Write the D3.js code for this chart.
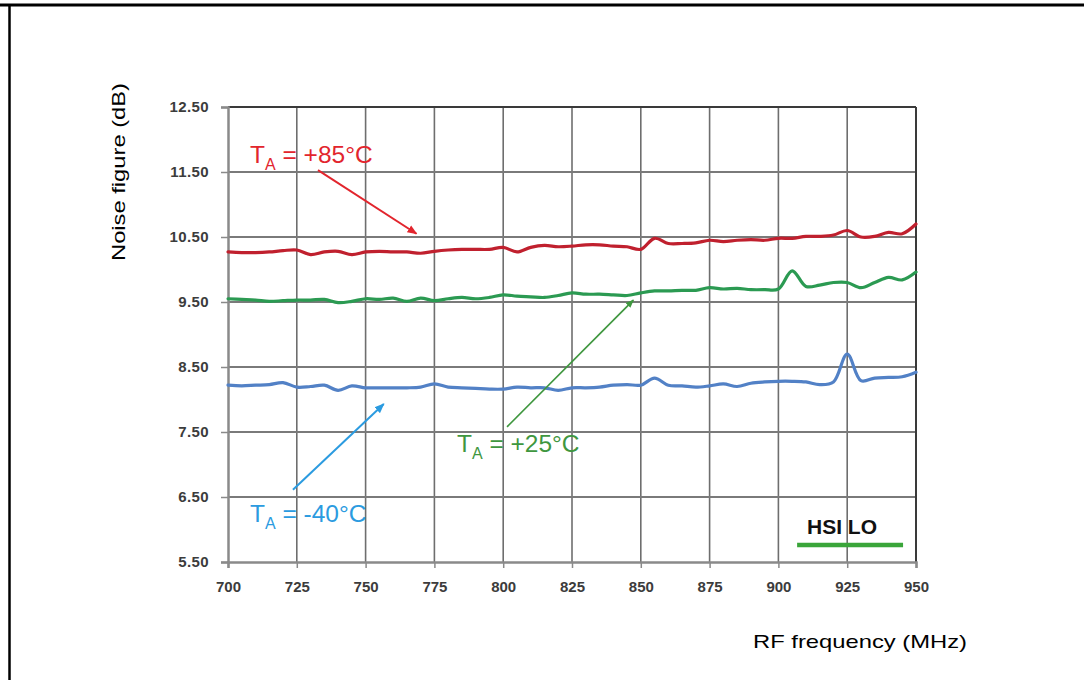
<!DOCTYPE html>
<html>
<head>
<meta charset="utf-8">
<script src="https://cdn.jsdelivr.net/npm/d3@7"></script>
<style>
  html, body { margin: 0; padding: 0; background: #fff; }
  svg { display: block; }
</style>
</head>
<body>
<svg id="chart" width="1084" height="680"></svg>
<script>
// ---------------- DATA ----------------
const freqMHz = [700,705,710,715,720,725,730,735,740,745,750,755,760,765,770,775,780,785,790,795,
                 800,805,810,815,820,825,830,835,840,845,850,855,860,865,870,875,880,885,890,895,
                 900,905,910,915,920,925,930,935,940,945,950];

const nf85 = [10.27,10.26,10.26,10.27,10.29,10.30,10.23,10.27,10.28,10.23,10.27,10.28,10.27,10.27,10.25,10.28,10.30,10.31,10.31,10.31,
              10.34,10.27,10.34,10.37,10.35,10.36,10.38,10.38,10.36,10.35,10.31,10.48,10.40,10.40,10.41,10.45,10.43,10.45,10.46,10.45,
              10.48,10.48,10.51,10.51,10.53,10.60,10.50,10.51,10.57,10.55,10.70];

const nf25 = [9.55,9.54,9.53,9.51,9.52,9.53,9.53,9.54,9.49,9.51,9.55,9.54,9.56,9.51,9.56,9.52,9.55,9.57,9.55,9.57,
              9.61,9.59,9.58,9.57,9.60,9.64,9.62,9.62,9.61,9.60,9.64,9.67,9.67,9.68,9.68,9.72,9.70,9.71,9.69,9.69,
              9.70,9.98,9.74,9.76,9.80,9.80,9.72,9.80,9.88,9.84,9.96];

const nfm40 = [8.22,8.21,8.22,8.23,8.26,8.19,8.20,8.22,8.14,8.21,8.18,8.18,8.18,8.18,8.19,8.24,8.19,8.18,8.17,8.16,
               8.16,8.19,8.18,8.18,8.14,8.18,8.18,8.19,8.22,8.23,8.22,8.33,8.22,8.21,8.19,8.21,8.24,8.20,8.25,8.27,
               8.28,8.28,8.27,8.23,8.27,8.70,8.29,8.33,8.34,8.35,8.42];

const xTicks = [700,725,750,775,800,825,850,875,900,925,950];
const yTicks = [5.5,6.5,7.5,8.5,9.5,10.5,11.5,12.5];

const seriesNames = ["+85°C", "+25°C", "-40°C"];
const xTitle = "RF frequency (MHz)";
const yTitle = "Noise figure (dB)";
const badge = "HSI LO";

// ---------------- LAYOUT / STYLE ----------------
const plot = { left: 228, right: 916, top: 107, bottom: 562 };
const colors = { r: "#c0202e", g: "#2b9a52", b: "#5281c6" };
const annColors = { r: "#e2252d", g: "#3f973f", b: "#2b9be0" };

const svg = d3.select("#chart");
const x = d3.scaleLinear().domain([700, 950]).range([plot.left, plot.right]);
const y = d3.scaleLinear().domain([5.5, 12.5]).range([plot.bottom, plot.top]);

// outer frame (page figure box)
svg.append("line").attr("x1", 0).attr("x2", 1084).attr("y1", 5).attr("y2", 5)
  .attr("stroke", "#000").attr("stroke-width", 3);
svg.append("line").attr("x1", 9.5).attr("x2", 9.5).attr("y1", 4).attr("y2", 680)
  .attr("stroke", "#000").attr("stroke-width", 2.5);

// gridlines
const grid = svg.append("g");
grid.selectAll(".vg").data(xTicks.slice(1, -1)).enter().append("line")
  .attr("x1", d => x(d)).attr("x2", d => x(d))
  .attr("y1", plot.top).attr("y2", plot.bottom)
  .attr("stroke", "#6e6e6e").attr("stroke-width", 1.6);
grid.selectAll(".hg").data(yTicks.slice(1, -1)).enter().append("line")
  .attr("x1", plot.left).attr("x2", plot.right)
  .attr("y1", d => y(d)).attr("y2", d => y(d))
  .attr("stroke", "#7a7a7a").attr("stroke-width", 1.8);

// border top/right
svg.append("line").attr("x1", plot.left).attr("x2", plot.right).attr("y1", plot.top).attr("y2", plot.top)
  .attr("stroke", "#3a3a3a").attr("stroke-width", 2);
svg.append("line").attr("x1", plot.right).attr("x2", plot.right).attr("y1", plot.top).attr("y2", plot.bottom)
  .attr("stroke", "#3a3a3a").attr("stroke-width", 2);

// axes
const xAxis = d3.axisBottom(x).tickValues(xTicks).tickSize(6).tickPadding(10).tickFormat(d3.format("d"));
const yAxis = d3.axisLeft(y).tickValues(yTicks).tickSize(7).tickPadding(12).tickFormat(d3.format(".2f"));

const gx = svg.append("g").attr("transform", `translate(0,${plot.bottom})`).call(xAxis);
const gy = svg.append("g").attr("transform", `translate(${plot.left},0)`).call(yAxis);
[gx, gy].forEach(g => {
  g.select(".domain").attr("stroke", "#8a8a8a").attr("stroke-width", 2.5);
  g.selectAll(".tick line").attr("stroke", "#8a8a8a").attr("stroke-width", 1.5);
  g.selectAll(".tick text")
    .attr("font-family", "'Liberation Sans', Arial, sans-serif")
    .attr("font-weight", "bold").attr("font-size", 15).attr("fill", "#3c3c3c");
});
gy.selectAll(".tick text").attr("letter-spacing", 0.4);
gx.selectAll(".tick text").attr("dy", "0.9em");

// series lines
const line = d3.line().x((d, i) => x(freqMHz[i])).y(d => y(d)).curve(d3.curveCatmullRom.alpha(0.5));
const series = [
  { vals: nf85, c: colors.r },
  { vals: nf25, c: colors.g },
  { vals: nfm40, c: colors.b }
];
svg.append("g").selectAll("path").data(series).enter().append("path")
  .attr("d", d => line(d.vals))
  .attr("fill", "none").attr("stroke", d => d.c).attr("stroke-width", 3.2)
  .attr("stroke-linejoin", "round").attr("stroke-linecap", "round");

// arrow markers
const defs = svg.append("defs");
function marker(id, color) {
  defs.append("marker").attr("id", id).attr("viewBox", "0 0 10 10")
    .attr("refX", 9).attr("refY", 5).attr("markerWidth", 5).attr("markerHeight", 5)
    .attr("orient", "auto-start-reverse").attr("markerUnits", "strokeWidth")
    .append("path").attr("d", "M0,1 L10,5 L0,9 Z").attr("fill", color);
}
marker("ar", annColors.r); marker("ag", annColors.g); marker("ab", annColors.b);

// annotations (in data coordinates)
const annotations = [
  { name: seriesNames[0], tx: 708, ty: 11.64, ax1: 732.7, ay1: 11.53, ax2: 768.5, ay2: 10.55, c: annColors.r, m: "ar", w: 2 },
  { name: seriesNames[1], tx: 783.2, ty: 7.19, ax1: 801.4, ay1: 7.58, ax2: 847.3, ay2: 9.53, c: annColors.g, m: "ag", w: 1.7 },
  { name: seriesNames[2], tx: 708, ty: 6.12, ax1: 723.6, ay1: 6.61, ax2: 756.6, ay2: 7.93, c: annColors.b, m: "ab", w: 2 }
];
annotations.forEach(a => {
  svg.append("line")
    .attr("x1", x(a.ax1)).attr("y1", y(a.ay1)).attr("x2", x(a.ax2)).attr("y2", y(a.ay2))
    .attr("stroke", a.c).attr("stroke-width", a.w).attr("marker-end", `url(#${a.m})`);
  const t = svg.append("text").attr("x", x(a.tx)).attr("y", y(a.ty))
    .attr("font-family", "'Liberation Sans', Arial, sans-serif").attr("font-size", 24.5)
    .attr("fill", a.c);
  t.append("tspan").text("T");
  t.append("tspan").attr("font-size", 16).attr("dy", 7).text("A");
  t.append("tspan").attr("dy", -7).text(" = " + a.name);
});

// HSI LO badge
svg.append("text").attr("x", x(910.4)).attr("y", y(5.93))
  .attr("font-family", "'Liberation Sans', Arial, sans-serif").attr("font-weight", "bold")
  .attr("font-size", 21).attr("fill", "#111").text(badge);
svg.append("line").attr("x1", x(906.8)).attr("x2", x(945.3)).attr("y1", y(5.76)).attr("y2", y(5.76))
  .attr("stroke", "#3aa53a").attr("stroke-width", 4.5);

// axis titles
svg.append("text").attr("x", 860).attr("y", 648).attr("text-anchor", "middle")
  .attr("font-family", "'Liberation Sans', Arial, sans-serif").attr("font-size", 19)
  .attr("fill", "#000").attr("textLength", 214).attr("lengthAdjust", "spacingAndGlyphs").text(xTitle);
svg.append("text").attr("transform", "translate(125,172) rotate(-90)").attr("text-anchor", "middle")
  .attr("font-family", "'Liberation Sans', Arial, sans-serif").attr("font-size", 19)
  .attr("fill", "#000").attr("textLength", 178).attr("lengthAdjust", "spacingAndGlyphs").text(yTitle);
</script>
</body>
</html>
